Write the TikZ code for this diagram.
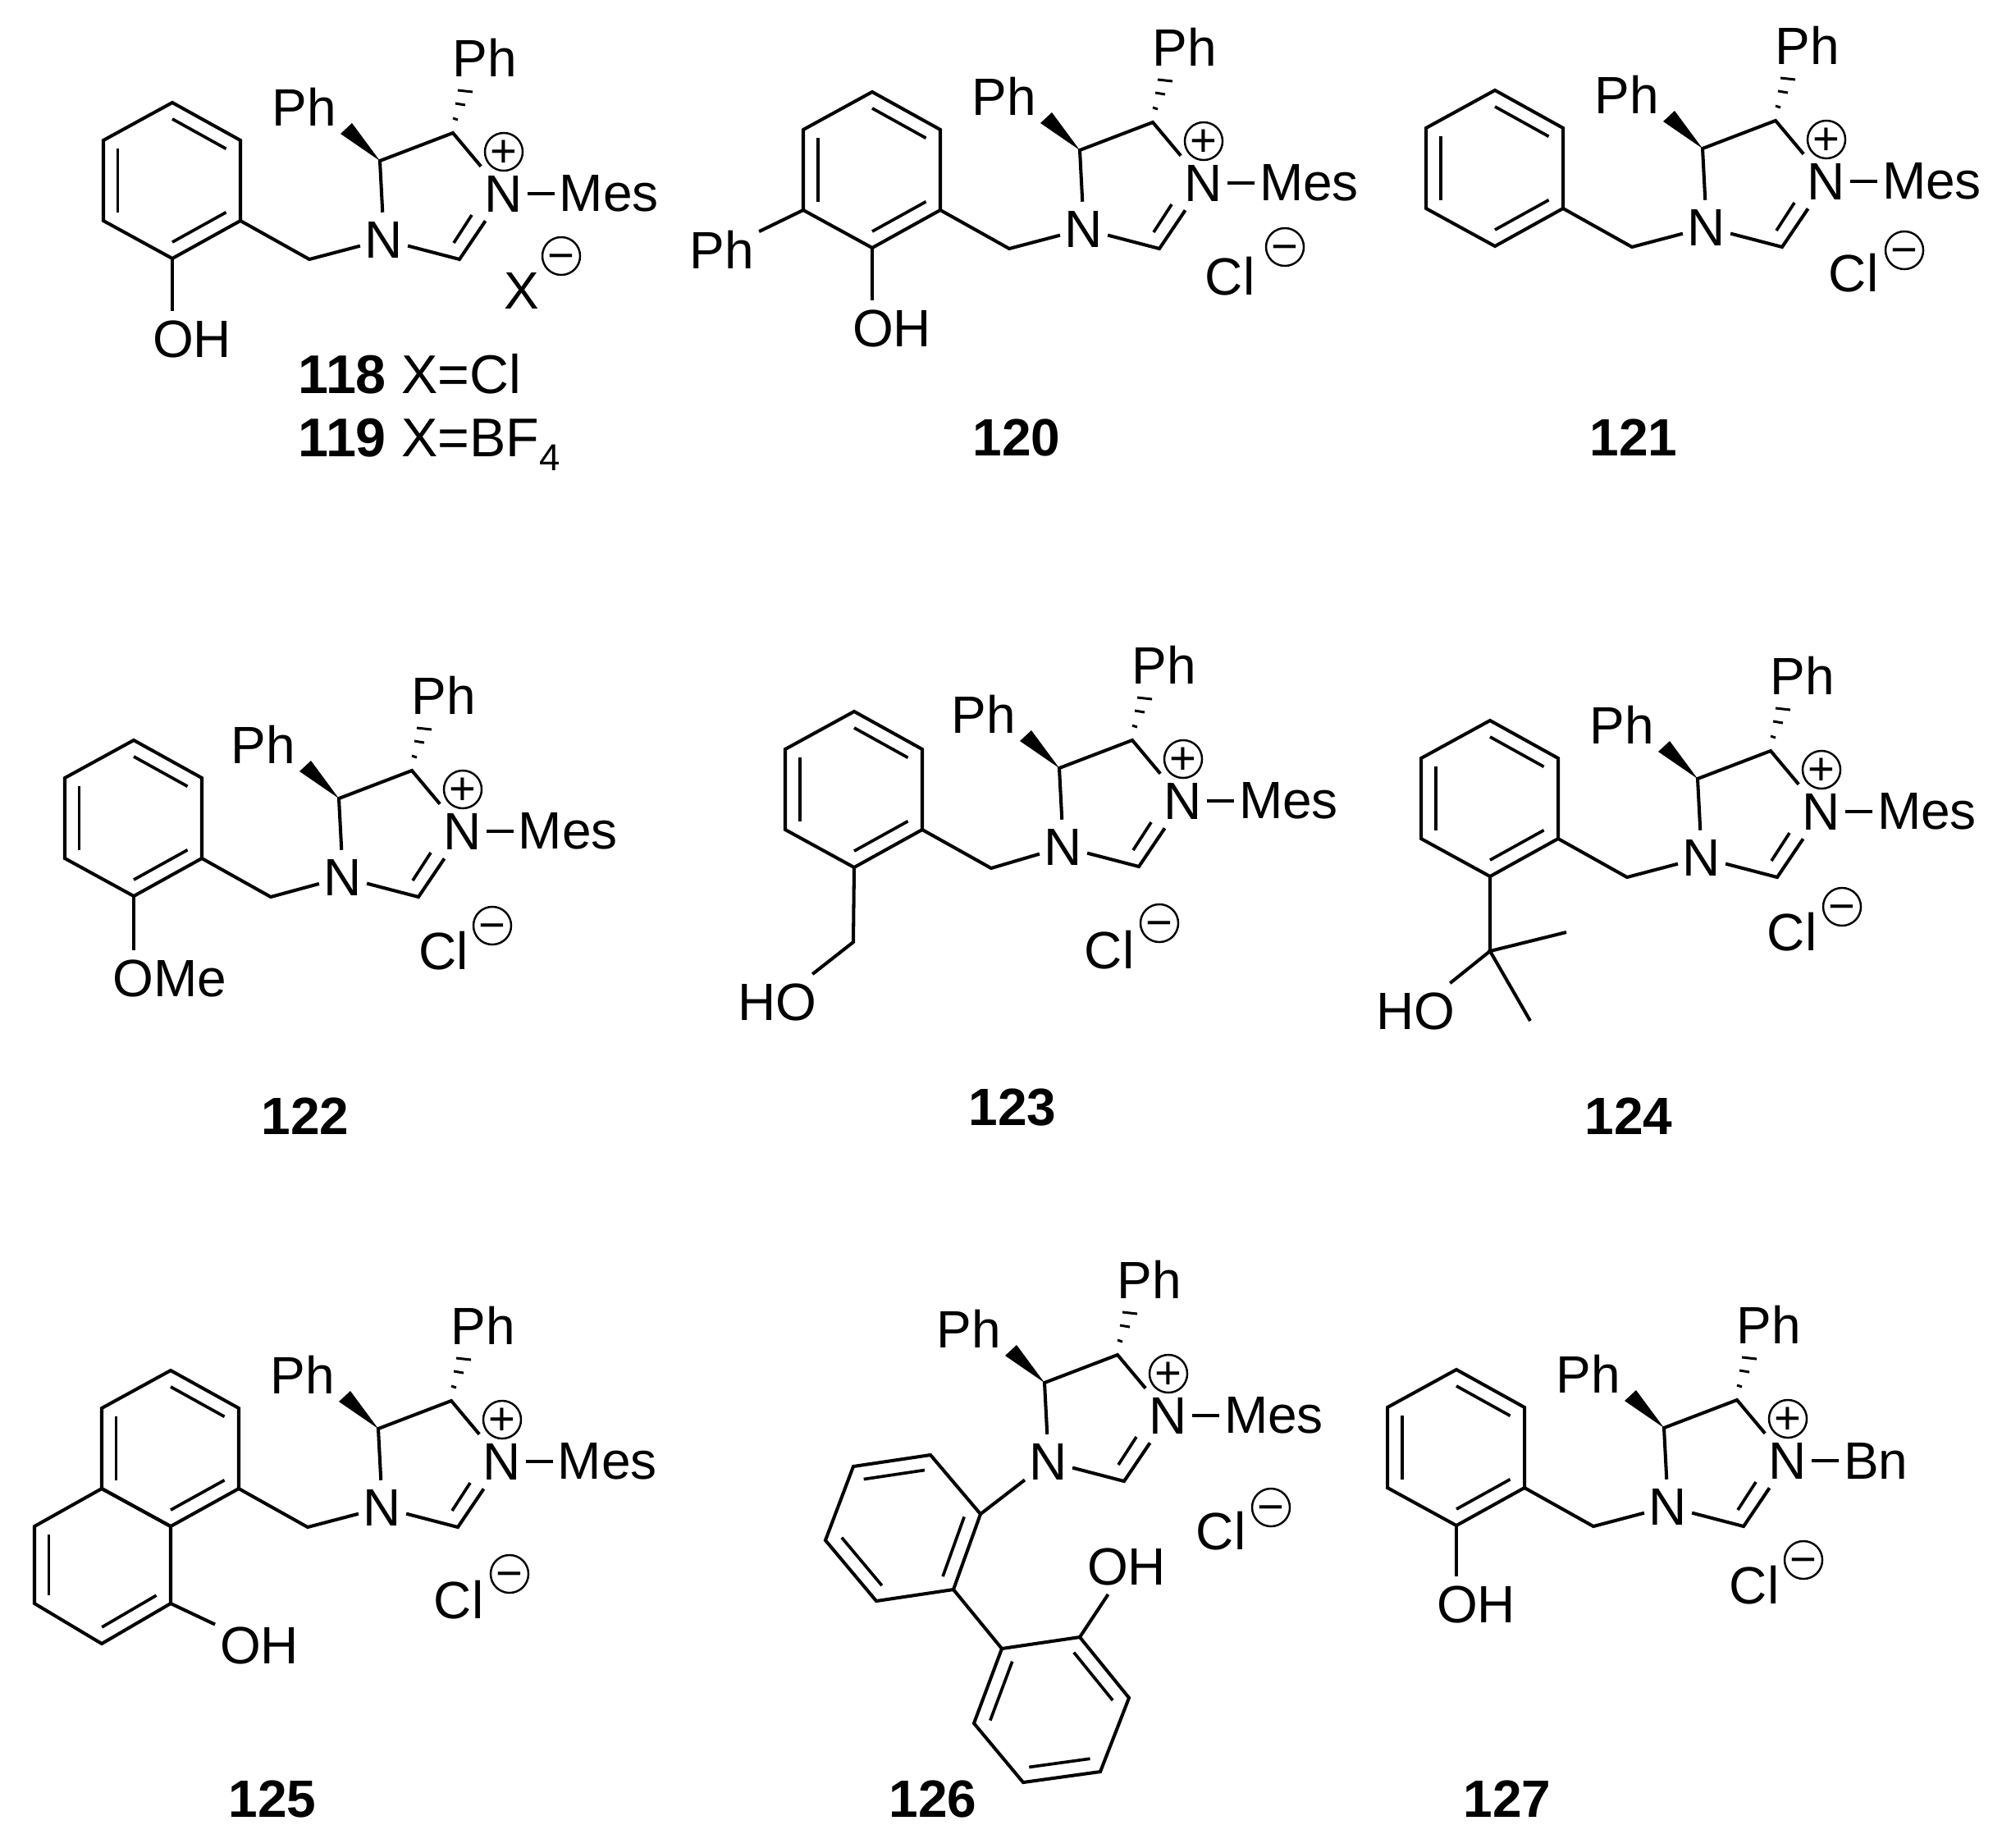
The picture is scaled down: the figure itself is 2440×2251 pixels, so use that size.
\documentclass[tikz,border=0pt]{standalone}
\usepackage{fontspec}
\setmainfont{Liberation Sans}
\usetikzlibrary{calc,positioning}

\tikzset{
    bond/.style={line width=1.15pt, line join=miter},
    innerbond/.style={line width=1.05pt},
    hashbond/.style={line width=0.85pt},
    atom/.style={inner xsep=1.5pt, inner ysep=3pt, font=\fontsize{18.2}{20}\selectfont},
    charge/.style={draw, line width=0.7pt, circle, inner sep=-1pt, minimum size=0.46cm, text height=10.5pt, text depth=0pt, font=\fontsize{16}{16}\selectfont},
    compound/.style={inner sep=0pt, font=\fontsize{18.2}{20}\selectfont\bfseries},
    plainlabel/.style={inner sep=0pt, font=\fontsize{18.9}{20}\selectfont}
}

% inner line of a double bond
\newcommand{\ringdbl}[3]{
    \draw[innerbond] ($(#1#2)!0.21!(#1o)$) -- ($(#1#3)!0.21!(#1o)$);
}

% six-membered ring, double bonds a-b and c-d
\newcommand{\hexring}[7]{
    \coordinate (#1a) at (#2);
    \coordinate (#1b) at (#3);
    \coordinate (#1c) at (#4);
    \coordinate (#1d) at (#5);
    \coordinate (#1e) at (#6);
    \coordinate (#1f) at (#7);
    \coordinate (#1o) at ($(#1a)!0.5!(#1d)$);
    \draw[bond] (#1a) -- (#1b) -- (#1c) -- (#1d) -- (#1e) -- (#1f) -- cycle;
    \ringdbl{#1}{a}{b}
    \ringdbl{#1}{c}{d}
}

% imidazolinium core, placed by its lower N
\newcommand{\imcation}[3]{
    \begin{scope}[shift={(#2)}]
    \node[atom] (#1n1) at (0,0) {N};
    \node[atom] (#1n3) at (146,-56) {N};
    \node[atom] (#1ph1) at (-97,-162) {Ph};
    \node[atom] (#1ph2) at (123,-222) {Ph};
    \node[atom, anchor=west] (#1sub) at (208,-56) {#3};
    \node[charge] (#1plus) at (146,-107) {+};
    \coordinate (#1c4) at (-5,-96);
    \coordinate (#1c5) at (84,-130);
    \coordinate (#1c2) at (92,24);
    \draw[bond] (#1n1) -- (#1c4) -- (#1c5) -- (#1n3);
    \draw[bond] (#1n1) -- (#1c2) -- (#1n3);
    \draw[innerbond] (85,4) -- (107,-30);
    \draw[bond] (#1n3) -- (#1sub);
    % stereo bonds
    \fill (#1c4) -- (-53,-129) -- (-39,-142) -- cycle;
    \foreach \hy/\hx/\hw in {-147/87/3, -165/93/6, -181/99/9}
        \draw[hashbond] (\hx-\hw,\hy-1) -- (\hx+\hw,\hy+1);
    \end{scope}
}

% benzyl arm on the lower N
\newcommand{\benzyl}[2]{
    \begin{scope}[shift={(#2)}]
    \hexring{#1}{-258,-167}{-175,-121}{-175,-23}{-258,23}{-342,-23}{-342,-121}
    \ringdbl{#1}{e}{f}
    \coordinate (#1ch2) at (-91,24);
    \draw[bond] (#1c) -- (#1ch2) -- (#1n1);
    \end{scope}
}

% anion and its charge
\newcommand{\anion}[4]{
    \node[atom] (#1an) at (#2) {#4};
    \node[charge] (#1minus) at (#3) {−};
}

\begin{document}
\begin{tikzpicture}[x=0.01cm, y=-0.01cm]
    \useasboundingbox (0,0) rectangle (2440,2251);

    % 118 / 119
    \imcation{p}{468,292}{Mes}
    \benzyl{p}{468,292}
    \node[atom] (poh) at (234,413) {OH};
    \draw[bond] (pd) -- (poh.north -| pd);
    \anion{p}{636,354}{684,312}{X}
    \node[plainlabel, anchor=base west] (plab) at (363,479) {\textbf{118} X=Cl};
    \node[plainlabel, anchor=base west] (qlab) at (363,556) {\textbf{119} X=BF\raisebox{-5pt}{\fontsize{13}{13}\selectfont 4}};

    % 120
    \imcation{r}{1321,279}{Mes}
    \benzyl{r}{1321,279}
    \node[atom] (roh) at (1087,400) {OH};
    \node[atom] (rph) at (880,304) {Ph};
    \draw[bond] (rd) -- (roh.north -| rd);
    \draw[bond] (re) -- (rph);
    \anion{r}{1499,337}{1566,301}{Cl}
    \node[compound] (rlab) at (1239,533) {120};

    % 121
    \imcation{s}{2080,277}{Mes}
    \benzyl{s}{2080,277}
    \anion{s}{2259,333}{2321,305}{Cl}
    \node[compound] (slab) at (1991,533) {121};

    % 122
    \imcation{t}{418,1069}{Mes}
    \benzyl{t}{421,1069}
    \node[atom] (tome) at (207,1192) {OMe};
    \draw[bond] (td) -- (tome.north -| td);
    \anion{t}{541,1159}{600,1128}{Cl}
    \node[compound] (tlab) at (372,1360) {122};

    % 123
    \imcation{u}{1296,1032}{Mes}
    \benzyl{u}{1299,1034}
    \node[atom] (uho) at (947,1221) {HO};
    \coordinate (uch) at (1040,1148);
    \draw[bond] (ud) -- (uch) -- (uho);
    \anion{u}{1352,1158}{1413,1125}{Cl}
    \node[compound] (ulab) at (1234,1349) {123};

    % 124
    \imcation{v}{2074,1045}{Mes}
    \benzyl{v}{2074,1045}
    \node[atom] (vho) at (1725,1232) {HO};
    \coordinate (vcq) at (1816,1159);
    \coordinate (vme) at (1909,1136);
    \coordinate (vmf) at (1865,1244);
    \draw[bond] (vd) -- (vcq) -- (vho);
    \draw[bond] (vme) -- (vcq) -- (vmf);
    \anion{v}{2184,1136}{2245,1105}{Cl}
    \node[compound] (vlab) at (1985,1360) {124};

    % 125
    \imcation{w}{466,1837}{Mes}
    \benzyl{w}{466,1837}
    \hexring{x}{42,1860}{42,1954}{124,2003}{208,1954}{208,1860}{124,1814}
    \node[atom] (xoh) at (316,2005) {OH};
    \draw[bond] (xd) -- (xoh);
    \anion{w}{559,1950}{621,1918}{Cl}
    \node[compound] (wlab) at (332,2192) {125};

    % 126
    \imcation{y}{1278,1781}{Mes}
    \hexring{y}{1195,1845}{1162,1937}{1068,1951}{1006,1877}{1040,1787}{1134,1773}
    \ringdbl{y}{e}{f}
    \hexring{z}{1316,1995}{1376,2069}{1341,2159}{1247,2172}{1187,2100}{1221,2009}
    \ringdbl{z}{e}{f}
    \node[atom] (zoh) at (1373,1909) {OH};
    \draw[bond] (yn1) -- (ya);
    \draw[bond] (yb) -- (zf);
    \draw[bond] (za) -- (zoh);
    \anion{y}{1488,1866}{1549,1837}{Cl}
    \node[compound] (ylab) at (1137,2192) {126};

    % 127
    \imcation{k}{2033,1836}{Bn}
    \benzyl{k}{2033,1836}
    \node[atom] (koh) at (1799,1955) {OH};
    \draw[bond] (kd) -- (koh.north -| kd);
    \anion{k}{2138,1932}{2198,1901}{Cl}
    \node[compound] (klab) at (1837,2192) {127};
\end{tikzpicture}
\end{document}
